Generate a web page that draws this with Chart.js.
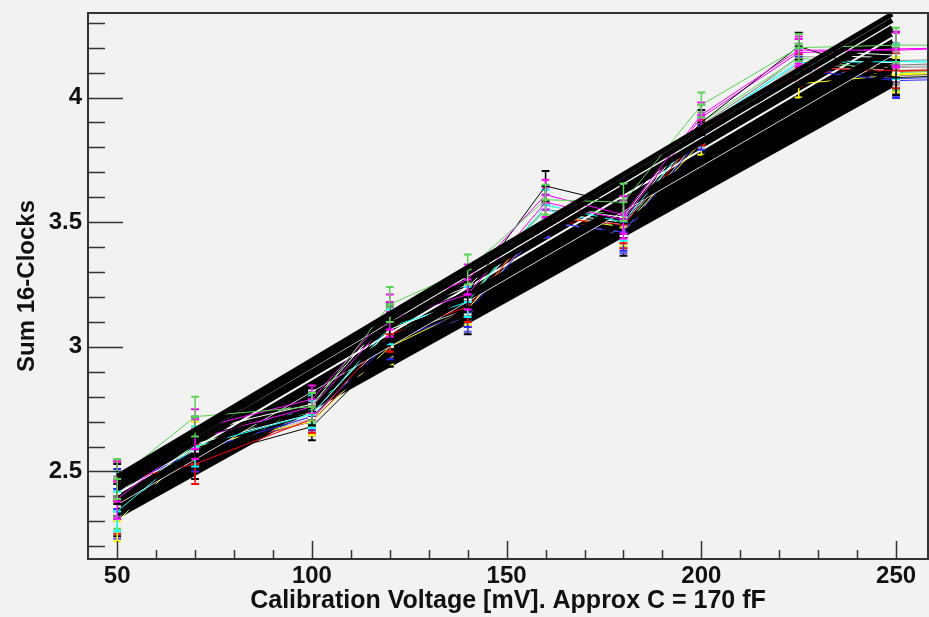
<!DOCTYPE html>
<html>
<head>
<meta charset="utf-8">
<script src="https://cdn.jsdelivr.net/npm/chart.js@4.4.0/dist/chart.umd.min.js"></script>
<style>
  html, body { margin: 0; padding: 0; background: #f2f2f2; }
</style>
</head>
<body>
<canvas id="calibChart" width="929" height="617"></canvas>
<script>
// calibration points (mV) and shared errors
const voltages = [50, 70, 100, 120, 140, 160, 180, 200, 225, 250, 270];
const yErrors = [0.08, 0.08, 0.055, 0.07, 0.06, 0.06, 0.075, 0.05, 0.055, 0.07, 0.07];
const xErrorMv = 1;
const xTickValues = [50, 100, 150, 200, 250];
const yTickValues = [2.5, 3, 3.5, 4];
const fitRange = [50, 249];

// one array per channel, values read at each voltage
const chGrey1 = [2.37, 2.62, 2.75, 3.06, 3.20, 3.53, 3.51, 3.87, 4.165, 4.148, 4.155];
const chGrey2 = [2.38, 2.58, 2.71, 3.04, 3.15, 3.51, 3.47, 3.84, 4.14, 4.124, 4.13];
const chYellow2 = [2.39, 2.62, 2.74, 3.06, 3.16, 3.52, 3.49, 3.84, 4.09, 4.095, 4.10];
const chBlack2 = [2.32, 2.55, 2.68, 2.99, 3.11, 3.49, 3.44, 3.80, 4.10, 4.09, 4.095];
const chGrey3 = [2.40, 2.64, 2.77, 3.09, 3.23, 3.55, 3.52, 3.89, 4.15, 4.13, 4.14];
const chRed2 = [2.33, 2.58, 2.70, 3.02, 3.14, 3.51, 3.47, 3.85, 4.10, 4.105, 4.11];
const chViolet = [2.31, 2.59, 2.70, 3.01, 3.12, 3.50, 3.45, 3.83, 4.12, 4.075, 4.085];
const chGrey4 = [2.37, 2.60, 2.72, 3.03, 3.17, 3.52, 3.49, 3.86, 4.13, 4.12, 4.125];
const chCyan2 = [2.42, 2.64, 2.75, 3.05, 3.18, 3.55, 3.48, 3.87, 4.15, 4.14, 4.145];
const chWhite = [2.41, 2.65, 2.78, 3.12, 3.24, 3.54, 3.50, 3.91, 4.17, 4.16, 4.165];
const chGreen2 = [2.35, 2.61, 2.74, 3.07, 3.19, 3.56, 3.53, 3.90, 4.16, 4.10, 4.11];
const chGrey5 = [2.34, 2.59, 2.71, 3.04, 3.15, 3.50, 3.46, 3.85, 4.12, 4.11, 4.12];
const chYellow = [2.30, 2.60, 2.70, 3.00, 3.15, 3.53, 3.48, 3.82, 4.055, 4.091, 4.10];
const chBlue = [2.43, 2.58, 2.72, 3.02, 3.14, 3.50, 3.46, 3.84, 4.11, 4.068, 4.075];
const chWhite2 = [2.37, 2.61, 2.73, 3.07, 3.19, 3.53, 3.49, 3.88, 4.15, 4.14, 4.15];
const chRed = [2.46, 2.53, 2.71, 3.05, 3.16, 3.52, 3.49, 3.86, 4.12, 4.107, 4.115];
const chCyan = [2.34, 2.60, 2.73, 3.08, 3.18, 3.57, 3.50, 3.88, 4.14, 4.144, 4.15];
const chWhite3 = [2.44, 2.66, 2.77, 3.13, 3.25, 3.56, 3.52, 3.93, 4.19, 4.17, 4.18];
const chMagenta2 = [2.39, 2.63, 2.76, 3.11, 3.21, 3.58, 3.51, 3.92, 4.18, 4.195, 4.20];
const chBlack = [2.45, 2.64, 2.74, 3.10, 3.22, 3.645, 3.57, 3.90, 4.205, 4.08, 4.09];
const chMagenta = [2.46, 2.67, 2.79, 3.14, 3.27, 3.61, 3.53, 3.93, 4.19, 4.19, 4.20];
const chGreen = [2.47, 2.72, 2.76, 3.17, 3.31, 3.59, 3.58, 3.97, 4.20, 4.21, 4.21];

const channelValues = [chGrey1, chGrey2, chYellow2, chBlack2, chGrey3, chRed2, chViolet, chGrey4, chCyan2, chWhite,
                       chGreen2, chGrey5, chYellow, chBlue, chWhite2, chRed, chCyan, chWhite3, chMagenta2, chBlack,
                       chMagenta, chGreen];
const channelColors = ['#9a9a9a', '#b4b4b4', '#ffff00', '#000000', '#7c7c7c', '#ff0000', '#5954d9', '#a8a8a8', '#00ffff', '#ffffff',
                       '#59d454', '#c4c4c4', '#ffff00', '#2a2aff', '#ffffff', '#ff0000', '#00ffff', '#ffffff', '#ff00ff', '#000000',
                       '#ff00ff', '#59d454'];
// linear fit of each channel: value at start and end of fit range
const fitStart = [2.40, 2.36, 2.38, 2.32, 2.42, 2.34, 2.33, 2.36, 2.41, 2.41, 2.37, 2.35, 2.33, 2.35, 2.37, 2.38, 2.39, 2.445, 2.43, 2.44, 2.46, 2.48];
const fitEnd   = [4.22, 4.14, 4.16, 4.05, 4.25, 4.09, 4.07, 4.15, 4.23, 4.24, 4.19, 4.12, 4.06, 4.11, 4.17, 4.18, 4.20, 4.29, 4.28, 4.27, 4.31, 4.335];

const fontFamily = '"Liberation Sans", Arial, Helvetica, sans-serif';

const datasets = [];
channelValues.forEach(function (vals, i) {
    const col = channelColors[i];
    datasets.push({
        data: vals.map((v, j) => ({ x: voltages[j], y: v })),
        errY: yErrors,
        borderColor: col,
        borderWidth: 1,
        pointRadius: 0,
        showLine: true
    });
    const white = col === '#ffffff';
    datasets.push({
        data: [{ x: fitRange[0], y: fitStart[i] }, { x: fitRange[1], y: fitEnd[i] }],
        borderColor: white ? '#ffffff' : '#000000',
        borderWidth: white ? 2 : 5,
        pointRadius: 0,
        showLine: true
    });
});
// chart.js paints index 0 last, so flip to keep the drawing order above
datasets.reverse();

const bgPlugin = {
    id: 'bg',
    beforeDraw(chart) {
        const ctx = chart.ctx;
        ctx.save();
        ctx.fillStyle = '#f2f2f2';
        ctx.fillRect(0, 0, chart.width, chart.height);
        ctx.restore();
    }
};

const errorBars = {
    id: 'errorBars',
    afterDatasetDraw(chart, args) {
        const ds = chart.data.datasets[args.index];
        if (!ds.errY) return;
        const ctx = chart.ctx, a = chart.chartArea;
        const xs = chart.scales.x, ys = chart.scales.y;
        ctx.save();
        ctx.beginPath();
        ctx.rect(a.left, a.top, a.right - a.left, a.bottom - a.top);
        ctx.clip();
        ctx.strokeStyle = ds.borderColor;
        ds.data.forEach(function (p, i) {
            const px = xs.getPixelForValue(p.x), py = ys.getPixelForValue(p.y);
            const top = ys.getPixelForValue(p.y + ds.errY[i]);
            const bot = ys.getPixelForValue(p.y - ds.errY[i]);
            const xl = xs.getPixelForValue(p.x - xErrorMv), xr = xs.getPixelForValue(p.x + xErrorMv);
            ctx.lineWidth = 1.5;
            ctx.beginPath();
            ctx.moveTo(px, top); ctx.lineTo(px, bot);
            ctx.stroke();
            ctx.lineWidth = 2;
            ctx.beginPath();
            ctx.moveTo(xl, py); ctx.lineTo(xr, py);
            ctx.moveTo(xl, top); ctx.lineTo(xr, top);
            ctx.moveTo(xl, bot); ctx.lineTo(xr, bot);
            ctx.stroke();
        });
        ctx.restore();
    }
};

// ROOT style frame with ticks pointing inwards
const frame = {
    id: 'frame',
    afterDraw(chart) {
        const ctx = chart.ctx, a = chart.chartArea;
        const xs = chart.scales.x, ys = chart.scales.y;
        ctx.save();
        ctx.strokeStyle = '#333333';
        ctx.lineWidth = 1.5;
        ctx.beginPath();
        for (let v = 50; v <= 250; v += 10) {
            const px = Math.round(xs.getPixelForValue(v)) + 0.5;
            const len = v % 50 === 0 ? 18 : 9;
            ctx.moveTo(px, a.bottom); ctx.lineTo(px, a.bottom - len);
        }
        for (let k = 22; k <= 43; k++) {
            const v = k / 10;
            const py = Math.round(ys.getPixelForValue(v)) + 0.5;
            const len = k % 5 === 0 ? 35 : 17;
            ctx.moveTo(a.left, py); ctx.lineTo(a.left + len, py);
        }
        ctx.stroke();
        ctx.lineWidth = 2;
        ctx.strokeRect(a.left, a.top, a.right - a.left, a.bottom - a.top);
        ctx.restore();
    }
};

new Chart(document.getElementById('calibChart').getContext('2d'), {
    type: 'scatter',
    data: { datasets: datasets },
    options: {
        responsive: false,
        animation: false,
        layout: { padding: { top: 13, right: 1, left: 0, bottom: 0 } },
        plugins: { legend: { display: false }, tooltip: { enabled: false } },
        scales: {
            x: {
                type: 'linear',
                min: 42.5,
                max: 258.2,
                grid: { display: false, drawTicks: false },
                border: { display: false },
                afterBuildTicks: function (s) { s.ticks = xTickValues.map(v => ({ value: v })); },
                afterFit: function (s) { s.height = 58; s.paddingLeft = 0; s.paddingRight = 0; },
                ticks: {
                    autoSkip: false, maxRotation: 0, padding: 3, color: '#111',
                    font: { family: fontFamily, weight: 'bold', size: 24 },
                    callback: v => String(v)
                },
                title: {
                    display: true,
                    text: 'Calibration Voltage [mV]. Approx C = 170 fF',
                    color: '#111',
                    font: { family: fontFamily, weight: 'bold', size: 25 },
                    padding: { top: 0, bottom: 1 }
                }
            },
            y: {
                type: 'linear',
                min: 2.149,
                max: 4.339,
                grid: { display: false, drawTicks: false },
                border: { display: false },
                afterBuildTicks: function (s) { s.ticks = yTickValues.map(v => ({ value: v })); },
                afterFit: function (s) { s.width = 88; s.paddingTop = 0; s.paddingBottom = 0; },
                ticks: {
                    autoSkip: false, padding: 6, color: '#111',
                    font: { family: fontFamily, weight: 'bold', size: 24 },
                    callback: v => String(v)
                },
                title: {
                    display: true,
                    text: 'Sum 16-Clocks',
                    color: '#111',
                    font: { family: fontFamily, weight: 'bold', size: 24 },
                    padding: { top: 13, bottom: 0 }
                }
            }
        }
    },
    plugins: [bgPlugin, errorBars, frame]
});
</script>
</body>
</html>
